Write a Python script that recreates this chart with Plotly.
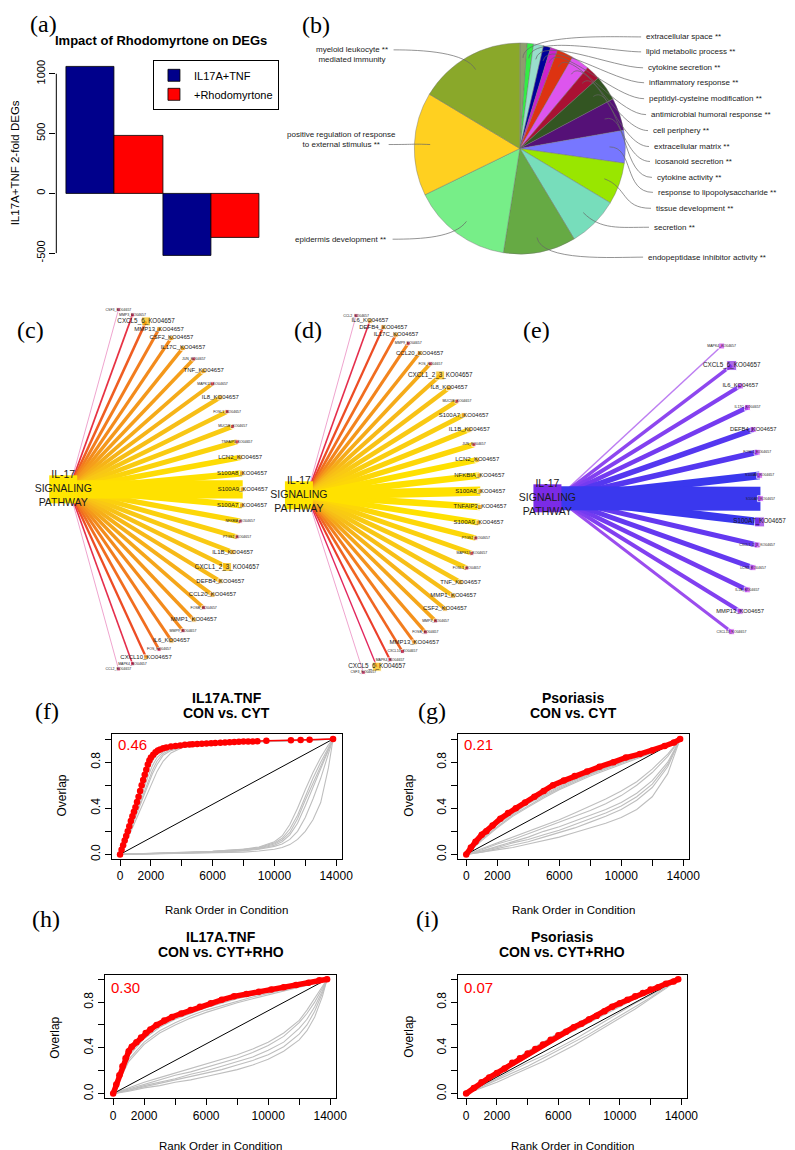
import numpy as np
import plotly.graph_objects as go
from plotly.colors import sample_colorscale

W, H = 795, 1150
SANS = "Liberation Sans, Arial, sans-serif"
SERIF = "Liberation Serif, Times New Roman, serif"

# ================= DATA =================
# (a) number of 2-fold DEGs
deg_direction = ["Up", "Down"]
deg_il17a_tnf = [1060, -525]
deg_rhodomyrtone = [480, -375]
a_ticks = [-500, 0, 500, 1000]

# (b) GO term shares (clockwise from 12 o'clock)
go_terms = [
    "extracellular space **", "lipid metabolic process **", "cytokine secretion **",
    "inflammatory response **", "peptidyl-cysteine modification **",
    "antimicrobial humoral response **", "cell periphery **", "extracellular matrix **",
    "icosanoid secretion **", "cytokine activity **", "response to lipopolysaccharide **",
    "tissue development **", "secretion **", "endopeptidase inhibitor activity **",
    "epidermis development **",
    "positive regulation of response<br>to external stimulus **",
    "myeloid leukocyte **<br>mediated immunity"]
go_share = [4, 3.5, 5.5, 4, 4, 9, 10, 8, 14, 18, 18, 23, 28, 40, 55, 57, 59]

# (c) IL-17 pathway genes, IL17A+TNF
c_genes = ["CSF3", "MMP3", "CXCL5_6", "MMP13", "CSF2", "IL17C", "JUN", "TNF", "MAPK13", "IL8",
           "FOSL1", "MUC5B", "TNFAIP3", "LCN2", "S100A8", "S100A9", "S100A7", "NFKBIA", "PTGS2",
           "IL1B", "CXCL1_2_3", "DEFB4", "CCL20", "FOSB", "MMP1", "MMP9", "IL6", "FOS", "CXCL10",
           "MAPK4", "CCL2"]
c_fc = [0.6, 1.5, 2.2, 2.6, 2.8, 3.0, 3.1, 3.3, 3.5, 3.7, 3.9, 4.1, 4.4, 4.8, 5.5, 16.0, 5.5,
        4.6, 4.3, 4.0, 3.8, 3.6, 3.4, 3.2, 3.0, 2.8, 2.6, 2.4, 2.0, 1.4, 0.6]
c_level = [1, 1, 3, 2, 2, 2, 1, 2, 1, 2, 1, 1, 1, 2, 2, 2, 2, 1, 1, 2, 3, 2, 2, 1, 2, 1, 2, 1, 2, 1, 1]

# (d) psoriasis
d_genes = ["CCL2", "IL6", "DEFB4", "IL17C", "MMP9", "CCL20", "FOS", "CXCL1_2_3", "IL8", "MUC5B",
           "S100A7", "IL1B", "JUN", "LCN2", "NFKBIA", "S100A8", "TNFAIP3", "S100A9", "PTGS2",
           "MAPK13", "FOSL1", "TNF", "MMP1", "CSF2", "MMP3", "FOSB", "MMP13", "CXCL10", "MAPK4",
           "CXCL5_6", "CSF3"]
d_fc = [0.6, 1.4, 2.0, 2.4, 2.7, 3.0, 3.3, 3.6, 3.8, 4.0, 4.2, 4.4, 4.6, 5.0, 5.8, 8.0, 5.8, 5.0,
        4.6, 4.3, 4.1, 3.9, 3.7, 3.5, 3.2, 2.9, 2.6, 2.3, 1.8, 1.2, 0.6]
d_level = [1, 2, 2, 2, 1, 2, 1, 3, 2, 1, 2, 2, 1, 2, 2, 2, 2, 2, 1, 1, 1, 2, 2, 2, 1, 1, 2, 1, 1, 3, 1]

# (e) rhodomyrtone
e_genes = ["MAPK4", "CXCL5_6", "IL6", "IL17C", "DEFB4", "FOSL1", "S100A8", "S100A9", "S100A7",
           "CXCL1_2_3", "LCN2", "IL1B", "MMP13", "CXCL10"]
e_fc = [1.5, 3.5, 4.0, 4.5, 5.5, 5.5, 8.0, 24.0, 8.0, 5.0, 5.0, 4.5, 4.0, 3.0]
e_level = [1, 3, 2, 1, 2, 1, 1, 1, 3, 1, 1, 1, 2, 1]

# (f)-(i) rank-rank overlap curves
diag_x = [0, 13800]
diag_y = [0, 1]
x_tickvals = [0, 2000, 4000, 6000, 8000, 10000, 12000, 14000]
x_ticktext = ["0", "2000", "", "6000", "", "10000", "", "14000"]
y_tickvals = [0, 0.2, 0.4, 0.6, 0.8, 1.0]
y_ticktext = ["0.0", "", "0.4", "", "0.8", ""]

f_red_x = [0, 100, 200, 300, 400, 500, 600, 700, 800, 900,
           1000, 1100, 1200, 1300, 1400, 1500, 1600, 1700, 1800, 1900,
           2000, 2150, 2300, 2450, 2600, 2800, 3000, 3300, 3600, 3900,
           4200, 4500, 4700, 5000, 5300, 5600, 5900, 6170, 6500, 6800,
           7100, 7400, 7700, 8000, 8300, 8600, 8900, 9480, 11070, 11700,
           12280, 13800]
f_red_y = [0.0, 0.04, 0.08, 0.12, 0.16, 0.2, 0.245, 0.29, 0.33, 0.37,
           0.41, 0.455, 0.5, 0.55, 0.6, 0.645, 0.69, 0.735, 0.78, 0.815,
           0.84, 0.865, 0.885, 0.9, 0.91, 0.92, 0.928, 0.935, 0.94, 0.945,
           0.95, 0.953, 0.955, 0.958, 0.96, 0.962, 0.964, 0.966, 0.968, 0.97,
           0.972, 0.974, 0.976, 0.978, 0.979, 0.98, 0.982, 0.985, 0.99, 0.992,
           0.994, 1.0]
f_up_grid = [0, 300, 600, 900, 1200, 1500, 1800, 2100, 2400, 2800, 3300, 4000, 5000, 6000, 8000, 10000, 12000, 13800]
f_upper = [
    [0, 0.1, 0.21, 0.32, 0.44, 0.56, 0.67, 0.77, 0.84, 0.89, 0.92, 0.94, 0.955, 0.965, 0.975, 0.985, 0.993, 1],
    [0, 0.09, 0.19, 0.29, 0.39, 0.5, 0.6, 0.7, 0.78, 0.86, 0.9, 0.93, 0.95, 0.96, 0.972, 0.983, 0.992, 1],
    [0, 0.11, 0.23, 0.35, 0.47, 0.6, 0.72, 0.81, 0.87, 0.905, 0.928, 0.945, 0.958, 0.968, 0.978, 0.987, 0.994, 1],
    [0, 0.08, 0.17, 0.26, 0.35, 0.45, 0.54, 0.63, 0.72, 0.81, 0.88, 0.925, 0.945, 0.958, 0.97, 0.98, 0.99, 1],
    [0, 0.095, 0.2, 0.3, 0.41, 0.52, 0.63, 0.73, 0.81, 0.875, 0.91, 0.935, 0.952, 0.963, 0.974, 0.984, 0.992, 1]]
f_low_grid = [0, 1000, 2000, 3000, 4000, 6000, 8000, 9000, 10000, 10500, 11000, 11500, 12000, 12500, 13000, 13500, 13800]
f_lower = [
    [0, 0.003, 0.006, 0.009, 0.012, 0.02, 0.035, 0.05, 0.08, 0.11, 0.17, 0.27, 0.42, 0.58, 0.74, 0.9, 1],
    [0, 0.003, 0.006, 0.01, 0.014, 0.024, 0.04, 0.06, 0.1, 0.14, 0.22, 0.34, 0.5, 0.66, 0.8, 0.93, 1],
    [0, 0.002, 0.005, 0.008, 0.011, 0.018, 0.03, 0.045, 0.07, 0.09, 0.13, 0.2, 0.32, 0.48, 0.66, 0.86, 1],
    [0, 0.004, 0.008, 0.012, 0.016, 0.028, 0.045, 0.065, 0.11, 0.16, 0.26, 0.4, 0.56, 0.71, 0.84, 0.95, 1],
    [0, 0.003, 0.007, 0.011, 0.015, 0.026, 0.042, 0.055, 0.09, 0.125, 0.19, 0.31, 0.47, 0.62, 0.77, 0.91, 1],
    [0, 0.002, 0.004, 0.006, 0.008, 0.013, 0.02, 0.03, 0.045, 0.06, 0.085, 0.13, 0.2, 0.3, 0.45, 0.75, 1]]

g_red_x = [0, 300, 600, 1000, 1300, 1700, 2200, 2700, 3200, 3800, 4400, 5000, 5600, 6300, 7000, 7800,
           8600, 9500, 10300, 11200, 12000, 12800, 13400, 13800]
g_red_y = [0, 0.06, 0.11, 0.17, 0.2, 0.25, 0.31, 0.36, 0.4, 0.45, 0.5, 0.55, 0.6, 0.64, 0.68, 0.72,
           0.76, 0.8, 0.84, 0.87, 0.9, 0.94, 0.97, 1.0]
g_grid = [0, 1000, 2000, 3000, 4000, 5000, 6000, 7000, 8000, 9000, 10000, 11000, 12000, 13000, 13800]
g_upper = [
    [0, 0.15, 0.27, 0.37, 0.45, 0.52, 0.59, 0.65, 0.70, 0.75, 0.80, 0.85, 0.90, 0.95, 1],
    [0, 0.13, 0.24, 0.34, 0.42, 0.50, 0.57, 0.63, 0.69, 0.74, 0.79, 0.84, 0.89, 0.94, 1],
    [0, 0.14, 0.26, 0.35, 0.44, 0.51, 0.58, 0.64, 0.70, 0.75, 0.80, 0.85, 0.90, 0.95, 1],
    [0, 0.12, 0.23, 0.33, 0.41, 0.49, 0.56, 0.62, 0.68, 0.73, 0.78, 0.83, 0.88, 0.94, 1]]
g_lower = [
    [0, 0.03, 0.07, 0.11, 0.15, 0.20, 0.24, 0.29, 0.34, 0.39, 0.45, 0.53, 0.64, 0.80, 1],
    [0, 0.04, 0.09, 0.13, 0.18, 0.23, 0.28, 0.33, 0.38, 0.44, 0.51, 0.60, 0.71, 0.85, 1],
    [0, 0.02, 0.05, 0.08, 0.11, 0.15, 0.19, 0.23, 0.28, 0.33, 0.39, 0.47, 0.58, 0.76, 1],
    [0, 0.03, 0.06, 0.10, 0.13, 0.17, 0.21, 0.26, 0.31, 0.36, 0.42, 0.50, 0.61, 0.78, 1],
    [0, 0.05, 0.10, 0.15, 0.20, 0.25, 0.30, 0.36, 0.42, 0.48, 0.55, 0.63, 0.74, 0.87, 1],
    [0, 0.02, 0.04, 0.06, 0.09, 0.12, 0.15, 0.19, 0.23, 0.27, 0.32, 0.39, 0.50, 0.70, 1]]

h_red_x = [0, 200, 400, 600, 800, 1000, 1200, 1500, 1800, 2100, 2400, 2800, 3300, 3800, 4400, 5000,
           5600, 6300, 7000, 7800, 8600, 9400, 10200, 11000, 11800, 12600, 13300, 13800]
h_red_y = [0, 0.08, 0.16, 0.24, 0.31, 0.37, 0.41, 0.45, 0.49, 0.53, 0.56, 0.6, 0.64, 0.67, 0.7, 0.73,
           0.76, 0.79, 0.82, 0.85, 0.87, 0.89, 0.91, 0.93, 0.95, 0.97, 0.99, 1.0]
h_grid = [0, 1000, 2000, 3000, 4000, 5000, 6000, 7000, 8000, 9000, 10000, 11000, 12000, 12500, 13000, 13500, 13800]
h_upper = [
    [0, 0.33, 0.48, 0.58, 0.65, 0.7, 0.75, 0.79, 0.83, 0.86, 0.89, 0.92, 0.945, 0.96, 0.975, 0.99, 1],
    [0, 0.3, 0.45, 0.55, 0.62, 0.68, 0.73, 0.77, 0.81, 0.845, 0.875, 0.905, 0.935, 0.95, 0.97, 0.985, 1],
    [0, 0.35, 0.5, 0.6, 0.67, 0.72, 0.765, 0.81, 0.845, 0.87, 0.9, 0.925, 0.95, 0.96, 0.975, 0.99, 1],
    [0, 0.28, 0.43, 0.53, 0.6, 0.66, 0.71, 0.755, 0.795, 0.83, 0.865, 0.9, 0.93, 0.945, 0.965, 0.985, 1]]
h_lower = [
    [0, 0.03, 0.06, 0.09, 0.12, 0.15, 0.18, 0.21, 0.25, 0.29, 0.34, 0.41, 0.52, 0.6, 0.72, 0.88, 1],
    [0, 0.04, 0.08, 0.12, 0.16, 0.19, 0.23, 0.27, 0.31, 0.36, 0.42, 0.5, 0.62, 0.7, 0.8, 0.92, 1],
    [0, 0.02, 0.05, 0.07, 0.1, 0.12, 0.15, 0.18, 0.21, 0.25, 0.3, 0.37, 0.47, 0.55, 0.67, 0.85, 1],
    [0, 0.05, 0.1, 0.14, 0.18, 0.22, 0.26, 0.3, 0.34, 0.39, 0.45, 0.53, 0.64, 0.73, 0.83, 0.94, 1],
    [0, 0.03, 0.07, 0.1, 0.13, 0.17, 0.2, 0.24, 0.28, 0.32, 0.38, 0.45, 0.57, 0.65, 0.76, 0.9, 1]]

i_red_x = [0, 500, 1000, 1500, 2000, 2500, 3000, 3500, 4000, 4500, 5000, 5500, 6000, 6500, 7000,
           7500, 8000, 8500, 9000, 9500, 10000, 10500, 11000, 11500, 12000, 12500, 13000, 13500, 13800]
i_red_y = [0, 0.05, 0.1, 0.14, 0.18, 0.22, 0.27, 0.31, 0.35, 0.39, 0.43, 0.47, 0.51, 0.54, 0.58,
           0.61, 0.65, 0.68, 0.72, 0.76, 0.79, 0.82, 0.85, 0.88, 0.91, 0.93, 0.96, 0.98, 1.0]
i_grid = [0, 1000, 2000, 3000, 4000, 5000, 6000, 7000, 8000, 9000, 10000, 11000, 12000, 13000, 13800]
i_gray = [
    [0, 0.1, 0.19, 0.28, 0.37, 0.45, 0.53, 0.6, 0.67, 0.73, 0.8, 0.86, 0.91, 0.96, 1],
    [0, 0.06, 0.12, 0.18, 0.24, 0.31, 0.38, 0.45, 0.52, 0.6, 0.68, 0.76, 0.84, 0.93, 1],
    [0, 0.05, 0.1, 0.16, 0.22, 0.28, 0.35, 0.42, 0.5, 0.58, 0.66, 0.74, 0.83, 0.92, 1],
    [0, 0.08, 0.16, 0.24, 0.32, 0.4, 0.48, 0.55, 0.62, 0.69, 0.76, 0.83, 0.89, 0.95, 1],
    [0, 0.07, 0.13, 0.2, 0.27, 0.33, 0.4, 0.47, 0.55, 0.63, 0.71, 0.79, 0.86, 0.94, 1],
    [0, 0.09, 0.17, 0.25, 0.34, 0.42, 0.5, 0.57, 0.64, 0.71, 0.78, 0.84, 0.9, 0.96, 1]]

# ================= STYLE =================
pie_colors = ["#8E9E6E", "#33EE44", "#99DDCC", "#000099", "#CC22CC", "#DD3311", "#DD55EE",
              "#AA1133", "#335522", "#551177", "#7777FF", "#99E600", "#77DDBB", "#66AA44",
              "#77EE88", "#FFD020", "#8AA82A"]
cd_scale = [[0.0, "#E890C8"], [0.12, "#E0206A"], [0.3, "#EC3F26"], [0.45, "#F2781E"],
            [0.6, "#F5A61A"], [0.75, "#F8C616"], [1.0, "#FFE100"]]
e_scale = [[0.0, "#C890F4"], [0.3, "#A050EE"], [0.55, "#7A3CF0"], [0.8, "#4A36F0"], [1.0, "#3A38EE"]]


fig = go.Figure()

# ---------- (a) bars ----------
fig.add_trace(go.Bar(x=deg_direction, y=deg_il17a_tnf, name="IL17A+TNF",
                     marker=dict(color="#00008B", line=dict(color="#000000", width=0.8)),
                     xaxis="x", yaxis="y", hoverinfo="skip"))
fig.add_trace(go.Bar(x=deg_direction, y=deg_rhodomyrtone, name="+Rhodomyrtone",
                     marker=dict(color="#FF0000", line=dict(color="#000000", width=0.8)),
                     xaxis="x", yaxis="y", hoverinfo="skip"))

# ---------- (b) pie ----------
PIE_CX, PIE_CY, PIE_R = 519, 139, 107
fig.add_trace(go.Pie(values=go_share, labels=go_terms, sort=False, direction="clockwise",
                     rotation=0, textinfo="none", showlegend=False, hoverinfo="skip",
                     marker=dict(colors=pie_colors, line=dict(color="rgba(110,110,110,0.7)", width=0.6)),
                     domain=dict(x=[(PIE_CX - PIE_R) / W, (PIE_CX + PIE_R) / W],
                                 y=[1 - (PIE_CY + PIE_R) / H, 1 - (PIE_CY - PIE_R) / H])))

shapes = []
annotations = []

tot = float(sum(go_share))
cum = np.cumsum(go_share)
mid = (cum - np.array(go_share) / 2.0) / tot * 2 * np.pi


def pie_pt(theta, rf):
    return PIE_CX + rf * PIE_R * np.sin(theta), PIE_CY - rf * PIE_R * np.cos(theta)


right_lab_x = [645, 645, 647, 648, 648, 650, 652, 653, 654, 656, 657, 655, 653, 647]
right_lab_y = [27, 42, 58, 73, 89, 105, 121, 137, 152, 168, 183, 199, 218, 248]
for i in range(14):
    ax_, ay_ = pie_pt(mid[i], 0.85)
    ux, uy = np.sin(mid[i]), -np.cos(mid[i])
    ex, ey = right_lab_x[i] - 3, right_lab_y[i]
    c1x, c1y = ax_ + ux * 25, ay_ + uy * 25
    c2x, c2y = ex - 30, ey
    shapes.append(dict(type="path", xref="x2", yref="y2", layer="above",
                       path=f"M {ax_:.1f},{ay_:.1f} C {c1x:.1f},{c1y:.1f} {c2x:.1f},{c2y:.1f} {ex:.1f},{ey:.1f}",
                       line=dict(color="#666666", width=0.7)))
    annotations.append(dict(x=right_lab_x[i], y=right_lab_y[i], xref="x2", yref="y2", text=go_terms[i],
                            showarrow=False, xanchor="left", yanchor="middle",
                            font=dict(size=8, family=SANS, color="#222222")))

left_center = [(337, 230), (338, 130), (349, 45)]
left_end = [(390, 230), (386, 135), (391, 40)]
for k, i in enumerate([14, 15, 16]):
    ax_, ay_ = pie_pt(mid[i], 0.85)
    ux, uy = np.sin(mid[i]), -np.cos(mid[i])
    ex, ey = left_end[k]
    c1x, c1y = ax_ + ux * 20, ay_ + uy * 20
    c2x, c2y = ex + 30, ey
    shapes.append(dict(type="path", xref="x2", yref="y2", layer="above",
                       path=f"M {ax_:.1f},{ay_:.1f} C {c1x:.1f},{c1y:.1f} {c2x:.1f},{c2y:.1f} {ex:.1f},{ey:.1f}",
                       line=dict(color="#666666", width=0.7)))
    annotations.append(dict(x=left_center[k][0], y=left_center[k][1], xref="x2", yref="y2",
                            text=go_terms[i], showarrow=False, xanchor="center", yanchor="middle",
                            align="center", font=dict(size=8, family=SANS, color="#222222")))


# ---------- (c)(d)(e) networks ----------
def network(genes, fc, level, cx, cy, rx, ry, a0, a1, scale, tfun, wscale, hub_color, hub_dx,
            node_col, node_size, lab_size):
    ang = np.radians(np.linspace(a0, a1, len(genes)))
    nx = cx + rx * np.cos(ang)
    ny = cy + ry * np.sin(ang)
    fcv = np.asarray(fc, float)
    t = np.clip(tfun(fcv), 0, 1)
    cols = sample_colorscale(scale, list(t))
    for k in np.argsort(fcv, kind="stable"):
        fig.add_trace(go.Scatter(x=[cx, nx[k]], y=[cy, ny[k]], mode="lines",
                                 line=dict(color=cols[k], width=max(0.5, wscale * fcv[k])),
                                 xaxis="x2", yaxis="y2", hoverinfo="skip", showlegend=False,
                                 cliponaxis=False))
    fig.add_trace(go.Scatter(x=[cx + hub_dx], y=[cy], mode="markers+text",
                             text=["IL-17<br>SIGNALING<br>PATHWAY"], textposition="middle center",
                             marker=dict(symbol="square", size=28, color=hub_color),
                             textfont=dict(size=10.5, family=SANS, color="#1a1a1a"),
                             xaxis="x2", yaxis="y2", hoverinfo="skip", showlegend=False,
                             cliponaxis=False))
    fig.add_trace(go.Scatter(x=nx, y=ny, mode="markers+text",
                             text=[g + "_KO04657" for g in genes], textposition="middle center",
                             marker=dict(symbol="square", size=[node_size[l] for l in level],
                                         color=[node_col[l] for l in level]),
                             textfont=dict(size=[lab_size[l] for l in level], family=SANS, color="#1a1a1a"),
                             xaxis="x2", yaxis="y2", hoverinfo="skip", showlegend=False,
                             cliponaxis=False))


cd_node_col = {1: "#C8144E", 2: "#E8A020", 3: "#F5B800"}
cd_node_size = {1: 4, 2: 5, 3: 9}
cd_lab_size = {1: 3.5, 2: 6, 3: 6.3}
network(c_genes, c_fc, c_level, 62, 481, 176, 188, -73.5, 73.5, cd_scale,
        lambda v: (v - 0.5) / 4.5, 1.15, "#FFE600", -6, cd_node_col, cd_node_size, cd_lab_size)
network(d_genes, d_fc, d_level, 303, 487, 176, 188, -73.5, 71, cd_scale,
        lambda v: (v - 0.5) / 4.5, 1.15, "#FFE600", -8, cd_node_col, cd_node_size, cd_lab_size)
e_node_col = {1: "#CC44EE", 2: "#B840EE", 3: "#8A2BE2"}
e_node_size = {1: 6, 2: 6, 3: 10}
e_lab_size = {1: 3.5, 2: 5.8, 3: 6.3}
network(e_genes, e_fc, e_level, 557, 490, 206, 260, -36, 31, e_scale,
        lambda v: (v - 1.0) / 6.0, 1.0, "#7B2BE6", -10, e_node_col, e_node_size, e_lab_size)


# ---------- (f)-(i) overlap curves ----------
def overlap(idx, red_x, red_y, bundles, red_lw):
    xa, ya = f"x{idx}", f"y{idx}"
    for grid, curves in bundles:
        for ys in curves:
            fig.add_trace(go.Scatter(x=grid, y=ys, mode="lines", line=dict(color="#BEBEBE", width=1.1),
                                     xaxis=xa, yaxis=ya, hoverinfo="skip", showlegend=False))
    fig.add_trace(go.Scatter(x=diag_x, y=diag_y, mode="lines", line=dict(color="black", width=1),
                             xaxis=xa, yaxis=ya, hoverinfo="skip", showlegend=False))
    fig.add_trace(go.Scatter(x=red_x, y=red_y, mode="lines+markers",
                             line=dict(color="#FF0000", width=red_lw),
                             marker=dict(color="#FF0000", size=6.5),
                             xaxis=xa, yaxis=ya, hoverinfo="skip", showlegend=False))


overlap(3, f_red_x, f_red_y, [(f_up_grid, f_upper), (f_low_grid, f_lower)], 1.5)
overlap(4, g_red_x, g_red_y, [(g_grid, g_upper), (g_grid, g_lower)], 5.5)
overlap(5, h_red_x, h_red_y, [(h_grid, h_upper), (h_grid, h_lower)], 5.5)
overlap(6, i_red_x, i_red_y, [(i_grid, i_gray)], 5.5)

# ================= LAYOUT =================
layout = dict(
    width=W, height=H, margin=dict(l=0, r=0, t=0, b=0),
    paper_bgcolor="white", plot_bgcolor="rgba(0,0,0,0)",
    barmode="group", bargap=0, bargroupgap=0,
    font=dict(family=SANS, color="black"),
    showlegend=True,
    legend=dict(x=147 / W, y=1 - 50 / H, xanchor="left", yanchor="top",
                bordercolor="black", borderwidth=1, bgcolor="white",
                font=dict(size=11, family=SANS, color="black"),
                itemwidth=30, tracegroupgap=0),
)
# (a) axes
layout["xaxis"] = dict(domain=[49 / W, 265 / W], range=[-0.602, 1.602], visible=False,
                       anchor="y", fixedrange=True)
layout["yaxis"] = dict(domain=[1 - 252 / H, 1 - 52 / H], range=[-567, 1100], anchor="x",
                       tickvals=a_ticks, ticktext=[str(v) for v in a_ticks], tickangle=-90,
                       ticks="outside", ticklen=6, tickcolor="black", showline=False,
                       showgrid=False, zeroline=False, tickfont=dict(size=11, family=SANS, color="black"))
shapes.append(dict(type="line", xref="x domain", yref="y", x0=0, x1=0, y0=-500, y1=1000,
                   line=dict(color="black", width=1)))
# canvas axes (pixel units)
layout["xaxis2"] = dict(domain=[0, 1], range=[0, W], visible=False, anchor="y2", fixedrange=True)
layout["yaxis2"] = dict(domain=[0, 1], range=[H, 0], visible=False, anchor="x2", fixedrange=True)

panel_boxes = {3: (105, 339, 727, 852), 4: (456, 691, 727, 852),
               5: (98, 333, 968, 1092), 6: (456, 689, 968, 1092)}
for idx, (x0, x1, y0, y1) in panel_boxes.items():
    layout[f"xaxis{idx}"] = dict(domain=[x0 / W, x1 / W], range=[-550, 14400], anchor=f"y{idx}",
                                 tickvals=x_tickvals, ticktext=x_ticktext, ticks="outside", ticklen=6,
                                 tickcolor="black", showline=True, mirror=True, linecolor="black",
                                 linewidth=1, showgrid=False, zeroline=False,
                                 tickfont=dict(size=12, family=SANS, color="black"))
    layout[f"yaxis{idx}"] = dict(domain=[1 - y1 / H, 1 - y0 / H], range=[-0.04, 1.04], anchor=f"x{idx}",
                                 tickvals=y_tickvals, ticktext=y_ticktext, tickangle=-90, ticks="outside",
                                 ticklen=6, tickcolor="black", showline=True, mirror=True,
                                 linecolor="black", linewidth=1, showgrid=False, zeroline=False,
                                 tickfont=dict(size=12, family=SANS, color="black"))


def txt(x, y, s, size, family=SANS, color="black", angle=0, xanchor="center"):
    annotations.append(dict(x=x, y=y, xref="x2", yref="y2", text=s, showarrow=False,
                            xanchor=xanchor, yanchor="middle", textangle=angle,
                            font=dict(size=size, family=family, color=color)))


# panel letters
for s, x, y in [("(a)", 36, 14), ("(b)", 312, 15), ("(c)", 23, 321), ("(d)", 304, 321),
                ("(e)", 536, 321), ("(f)", 40, 703), ("(g)", 430, 703), ("(h)", 39, 912),
                ("(i)", 425, 912)]:
    txt(x, y, s, 24, SERIF)

# (a) texts
txt(155, 31, "<b>Impact of Rhodomyrtone on DEGs</b>", 13)
txt(8, 153, "IL17A+TNF 2-fold DEGs", 11.5, angle=-90)

# (f)-(i) texts
for cxp, y1, l1, l2 in [(222, 690, "IL17A.TNF", "CON vs. CYT"), (573, 690, "Psoriasis", "CON vs. CYT"),
                        (216, 930, "IL17A.TNF", "CON vs. CYT+RHO"), (562, 930, "Psoriasis", "CON vs. CYT+RHO")]:
    txt(cxp, y1, f"<b>{l1}</b>", 14)
    txt(cxp, y1 + 15, f"<b>{l2}</b>", 14)
for x, y, s in [(126, 737, "0.46"), (477, 737, "0.21"), (119, 981, "0.30"), (477, 981, "0.07")]:
    txt(x, y, s, 15, color="#FF0000")
for x, y in [(55, 788), (407, 788), (48, 1031), (407, 1030)]:
    txt(x, y, "Overlap", 12, angle=-90)
for x, y in [(222, 903), (573, 903), (215, 1140), (572, 1140)]:
    txt(x, y, "Rank Order in Condition", 11.5)

layout["shapes"] = shapes
layout["annotations"] = annotations
fig.update_layout(**layout)
fig.write_html("out.html")
